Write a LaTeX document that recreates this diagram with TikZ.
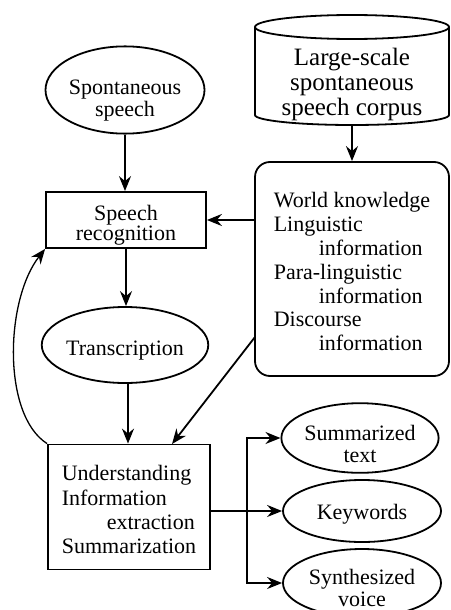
\documentclass[tikz,border=0pt]{standalone}
\usepackage{fontspec}
\setmainfont{Liberation Serif}
\usetikzlibrary{arrows.meta,shapes.geometric}

% a zero-width strut on the first line lowers a node's text block
\newcommand{\lowerby}[1]{\rule{0pt}{#1}}

\tikzset{
  base/.style={line width=1.8pt, inner sep=0pt, font=\fontsize{22}{22}\selectfont},
  oval/.style={base, draw, ellipse, align=center},
  boxnode/.style={base, draw, rectangle},
  arr/.style={line width=1.8pt, -{Stealth[length=15pt, width=12pt, inset=5pt]}},
}

\begin{document}
\begin{tikzpicture}[x=1pt, y=-1pt]
\useasboundingbox (0,0) rectangle (450,610);

% corpus drum
\draw[line width=1.8pt] (255,27) -- (255,115)
  arc[start angle=180, end angle=0, x radius=97, y radius=10] -- (449,27);
\draw[line width=1.8pt] (352,27) ellipse [x radius=97, y radius=12];
\node[base, font=\fontsize{25}{25}\selectfont, align=center]
  (corpus) at (352,84) {Large-scale\\spontaneous\\speech corpus};
\coordinate (drumbase) at (352,125);

% left column
\node[oval, minimum width=158pt, minimum height=70pt] (spont) at (125,90)
  {\lowerby{35pt}Spontaneous\\speech};
\node[boxnode, align=center, minimum width=160pt, minimum height=56pt,
  font=\fontsize{22}{20}\selectfont] (rec) at (126,220) {\lowerby{25pt}Speech\\recognition};
\node[oval, minimum width=158pt, minimum height=76pt] (trans) at (125,345)
  {\lowerby{25pt}Transcription};
\node[boxnode, align=left, minimum width=162pt, minimum height=125pt,
  font=\fontsize{22}{24.3}\selectfont] (und) at (129,507)
  {\lowerby{21pt}Understanding\\Information\\\hspace*{45pt}extraction\\Summarization};

% knowledge sources
\node[boxnode, rounded corners=15pt, align=left, minimum width=194pt, minimum height=214pt,
  font=\fontsize{22}{23.8}\selectfont] (rb) at (352,269)
  {\lowerby{21pt}World knowledge\\Linguistic\\\hspace*{45pt}information\\Para-linguistic\\
   \hspace*{45pt}information\\Discourse\\\hspace*{45pt}information};

% outputs
\node[oval, minimum width=156pt, minimum height=62pt] (sum) at (360,438)
  {\lowerby{27pt}Summarized\\text};
\node[oval, minimum width=158pt, minimum height=62pt] (kw) at (362,511)
  {\lowerby{21pt}Keywords};
\node[oval, minimum width=158pt, minimum height=68pt] (syn) at (362,583)
  {\lowerby{25pt}Synthesized\\voice};

% connectors
\coordinate (rbout) at (255,337);
\coordinate (undin) at (172,444);
\coordinate (fork) at (247,511);

\draw[arr] (drumbase) -- (rb.north);
\draw[arr] (spont.south) -- (rec.north -| spont.south);
\draw[arr] (rb.west |- rec.east) -- (rec.east);
\draw[arr] (rec.south) -- (trans.north -| rec.south);
\draw[arr] (trans.south) ++(3,0) -- (und.north -| 128,0);
\draw[arr] (rbout) -- (undin);
\draw[arr, line width=1.3pt] (und.north west) .. controls (2,415) and (5,300) .. (rec.south west);
\draw[line width=1.8pt] (und.east |- kw.west) -- (fork);
\draw[arr] (fork) -- (kw.west);
\draw[arr] (fork) |- (sum.west);
\draw[arr] (fork) |- (syn.west);
\end{tikzpicture}
\end{document}
